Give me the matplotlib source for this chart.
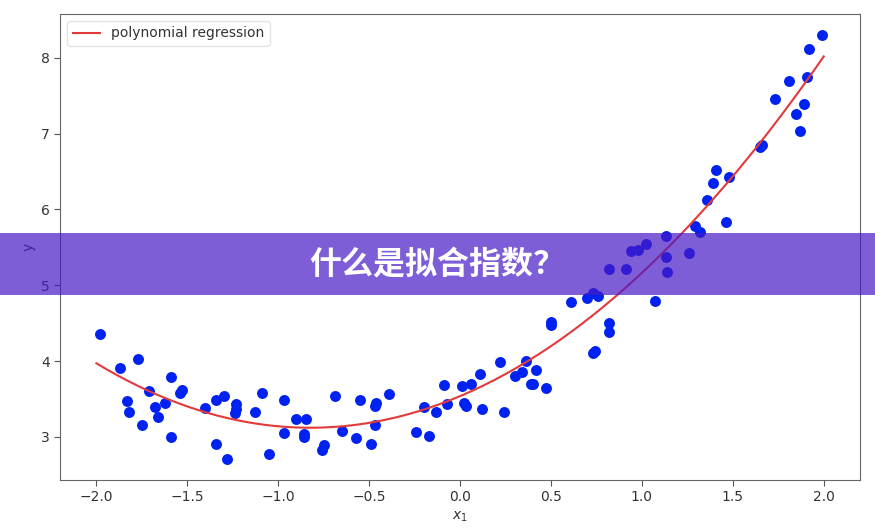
import numpy as np
import matplotlib
matplotlib.use("Agg")
import matplotlib.pyplot as plt
from matplotlib.patches import Rectangle

# ---- data ----
x_vals = [-1.98, -1.87, -1.77, -1.59, -1.71, -1.83, -1.82, -1.75, -1.68, -1.66,
          -1.62, -1.59, -1.54, -1.53, -1.40, -1.34, -1.30, -1.34, -1.28, -1.23,
          -1.23, -1.24, -1.13, -1.09, -1.05, -0.97, -0.97, -0.90, -0.85, -0.86,
          -0.86, -0.75, -0.76, -0.69,
          -0.65, -0.57, -0.55, -0.47, -0.46, -0.47, -0.49, -0.39, -0.24, -0.17,
          -0.20, -0.13, -0.09, -0.07, 0.01, 0.06, 0.02, 0.03, 0.12, 0.11,
          0.22, 0.24, 0.30, 0.34, 0.36, 0.42, 0.39, 0.40, 0.47, 0.50,
          0.50, 0.61, 0.70, 0.73, 0.76, 0.74, 0.73, 0.82, 0.82,
          0.82, 0.91, 1.07, 0.94, 0.98, 1.02, 1.13, 1.13, 1.14, 1.26,
          1.29, 1.32, 1.36, 1.39, 1.46,
          1.99, 1.92, 1.91, 1.81, 1.73, 1.89, 1.85, 1.87, 1.65, 1.66,
          1.41, 1.48]
y_vals = [4.36, 3.91, 4.03, 3.79, 3.60, 3.47, 3.33, 3.16, 3.40, 3.26,
          3.44, 3.00, 3.58, 3.62, 3.38, 3.49, 3.54, 2.90, 2.71, 3.43,
          3.37, 3.31, 3.33, 3.58, 2.77, 3.49, 3.05, 3.24, 3.24, 3.04,
          3.00, 2.89, 2.82, 3.54,
          3.08, 2.98, 3.49, 3.41, 3.45, 3.16, 2.90, 3.56, 3.07, 3.01,
          3.40, 3.33, 3.69, 3.43, 3.67, 3.70, 3.44, 3.41, 3.37, 3.83,
          3.99, 3.33, 3.80, 3.86, 4.00, 3.88, 3.70, 3.70, 3.65, 4.47,
          4.51, 4.78, 4.83, 4.90, 4.86, 4.13, 4.10, 4.50, 4.38,
          5.22, 5.22, 4.79, 5.45, 5.47, 5.54, 5.65, 5.37, 5.18, 5.43,
          5.78, 5.70, 6.13, 6.35, 5.84,
          8.30, 8.12, 7.75, 7.69, 7.46, 7.39, 7.26, 7.03, 6.83, 6.85,
          6.52, 6.43]
poly_coefs = [0.6145, 1.0125, 3.537]   # y = a*x^2 + b*x + c
curve_range = [-2.0, 2.0]
x_ticks = [-2.0, -1.5, -1.0, -0.5, 0.0, 0.5, 1.0, 1.5, 2.0]
y_ticks = [3, 4, 5, 6, 7, 8]
legend_label = "polynomial regression"
title_text = "什么是拟合指数？"

fig = plt.figure(figsize=(8.75, 5.29), dpi=100)
ax = fig.add_axes([0.0686, 0.0926, 0.9144, 0.881])

xc = np.linspace(curve_range[0], curve_range[1], 200)
yc = np.polyval(poly_coefs, xc)
ax.scatter(x_vals, y_vals, s=62, color="#0022f0", zorder=2, linewidths=0)
ax.plot(xc, yc, color="#e23a3a", lw=1.5, label=legend_label, zorder=3)

ax.set_xlim(-2.2, 2.2)
ax.set_ylim(2.43, 8.58)
ax.set_xticks(x_ticks)
ax.set_yticks(y_ticks)
ax.tick_params(colors="#555555", labelcolor="#333333", labelsize=10, length=4)
for s in ax.spines.values():
    s.set_color("#666666")
ax.set_xlabel("$x_1$", color="#333333", fontsize=10)
ax.set_ylabel("y", color="#333333", fontsize=10)
leg = ax.legend(loc="upper left", fontsize=10, frameon=True, fancybox=True)
for t in leg.get_texts():
    t.set_color("#333333")
leg.get_frame().set_edgecolor("#dddddd")

# translucent purple banner across the figure
banner = Rectangle((0, 1 - 295 / 529), 1, 62 / 529, transform=fig.transFigure,
                   facecolor=(72 / 255, 26 / 255, 199 / 255), alpha=0.7,
                   edgecolor="none", zorder=10)
fig.patches.append(banner)
fig.text(0.5, 1 - 265 / 529, title_text, color="white", fontsize=23,
         fontweight="heavy", ha="center", va="center", zorder=11,
         family=["Noto Sans CJK SC", "DejaVu Sans"])

fig.savefig("out.png", dpi=100)
